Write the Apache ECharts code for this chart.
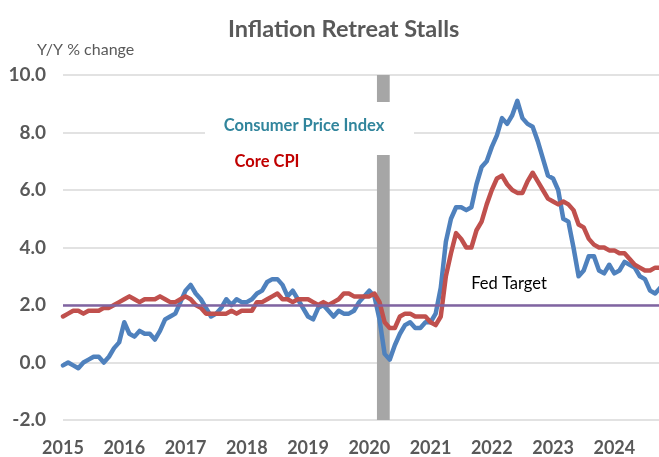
<!DOCTYPE html>
<html>
<head>
<meta charset="utf-8">
<script src="https://cdn.jsdelivr.net/npm/echarts@6/dist/echarts.min.js"></script>
<style>
html,body{margin:0;padding:0;background:#fff;}
#chart{width:659px;height:457px;}
</style>
</head>
<body>
<div id="chart"></div>
<script>
// Monthly data, Jan 2015 .. Oct 2024 (Y/Y % change)
const startYear = 2015;
const cpi = [
  -0.1, 0.0, -0.1, -0.2, 0.0, 0.1, 0.2, 0.2, 0.0, 0.2, 0.5, 0.7,
  1.4, 1.0, 0.9, 1.1, 1.0, 1.0, 0.8, 1.1, 1.5, 1.6, 1.7, 2.1,
  2.5, 2.7, 2.4, 2.2, 1.9, 1.6, 1.7, 1.9, 2.2, 2.0, 2.2, 2.1,
  2.1, 2.2, 2.4, 2.5, 2.8, 2.9, 2.9, 2.7, 2.3, 2.5, 2.2, 1.9,
  1.6, 1.5, 1.9, 2.0, 1.8, 1.6, 1.8, 1.7, 1.7, 1.8, 2.1, 2.3,
  2.5, 2.3, 1.5, 0.3, 0.1, 0.6, 1.0, 1.3, 1.4, 1.2, 1.2, 1.4,
  1.4, 1.7, 2.6, 4.2, 5.0, 5.4, 5.4, 5.3, 5.4, 6.2, 6.8, 7.0,
  7.5, 7.9, 8.5, 8.3, 8.6, 9.1, 8.5, 8.3, 8.2, 7.7, 7.1, 6.5,
  6.4, 6.0, 5.0, 4.9, 4.0, 3.0, 3.2, 3.7, 3.7, 3.2, 3.1, 3.4,
  3.1, 3.2, 3.5, 3.4, 3.3, 3.0, 2.9, 2.5, 2.4, 2.6
];
const coreCpi = [
  1.6, 1.7, 1.8, 1.8, 1.7, 1.8, 1.8, 1.8, 1.9, 1.9, 2.0, 2.1,
  2.2, 2.3, 2.2, 2.1, 2.2, 2.2, 2.2, 2.3, 2.2, 2.1, 2.1, 2.2,
  2.3, 2.2, 2.0, 1.9, 1.7, 1.7, 1.7, 1.7, 1.7, 1.8, 1.7, 1.8,
  1.8, 1.8, 2.1, 2.1, 2.2, 2.3, 2.4, 2.2, 2.2, 2.1, 2.2, 2.2,
  2.2, 2.1, 2.0, 2.1, 2.0, 2.1, 2.2, 2.4, 2.4, 2.3, 2.3, 2.3,
  2.3, 2.4, 2.1, 1.4, 1.2, 1.2, 1.6, 1.7, 1.7, 1.6, 1.6, 1.6,
  1.4, 1.3, 1.6, 3.0, 3.8, 4.5, 4.3, 4.0, 4.0, 4.6, 4.9, 5.5,
  6.0, 6.4, 6.5, 6.2, 6.0, 5.9, 5.9, 6.3, 6.6, 6.3, 6.0, 5.7,
  5.6, 5.5, 5.6, 5.5, 5.3, 4.8, 4.7, 4.3, 4.1, 4.0, 4.0, 3.9,
  3.9, 3.8, 3.8, 3.6, 3.4, 3.3, 3.2, 3.2, 3.3, 3.3
];
const yearLabels = ['2015','2016','2017','2018','2019','2020','2021','2022','2023','2024'];
const yTicks = [-2, 0, 2, 4, 6, 8, 10];
const fedTarget = 2.0;
// recession shading, in months since Jan 2015
const recession = [61.5, 64];

const chart = echarts.init(document.getElementById('chart'), null, {renderer: 'canvas'});
const FONT = 'Lato, "Open Sans", sans-serif';
const toXY = arr => arr.map((v, i) => [i, v]);

const option = {
  backgroundColor: '#ffffff',
  animation: false,
  title: {
    text: 'Inflation Retreat Stalls',
    left: 228, top: 17, padding: 0,
    textStyle: {fontFamily: FONT, fontWeight: 'bold', fontSize: 23.5, color: '#595959'}
  },
  grid: {left: 63, right: 0, top: 75, bottom: 37, containLabel: false},
  xAxis: {
    type: 'value', min: 0, max: 116.75, interval: 12,
    axisLine: {show: false}, axisTick: {show: false}, splitLine: {show: false},
    axisLabel: {
      margin: 19, fontFamily: FONT, fontWeight: 'bold', fontSize: 18, color: '#595959',
      showMaxLabel: false,
      formatter: v => (v % 12 === 0 ? yearLabels[v / 12] || '' : '')
    }
  },
  yAxis: {
    type: 'value', min: yTicks[0], max: yTicks[yTicks.length - 1], interval: 2,
    axisLine: {show: false}, axisTick: {show: false},
    splitLine: {lineStyle: {color: '#D9D9D9', width: 1.5}},
    axisLabel: {
      margin: 17, fontFamily: FONT, fontWeight: 'bold', fontSize: 19, color: '#595959',
      formatter: v => v.toFixed(1)
    }
  },
  series: [
    {
      name: 'Fed Target', type: 'line', data: [], z: 1,
      markLine: {
        silent: true, symbol: 'none', label: {show: false},
        lineStyle: {color: '#8064A2', width: 2.5, type: 'solid'},
        data: [{yAxis: fedTarget}]
      },
      markArea: {
        silent: true,
        itemStyle: {color: '#A6A6A6'},
        data: [[{xAxis: recession[0]}, {xAxis: recession[1]}]]
      }
    },
    {
      name: 'Consumer Price Index', type: 'line', data: toXY(cpi), z: 3,
      showSymbol: false, symbol: 'none',
      lineStyle: {color: '#4F81BD', width: 4.5, join: 'round', cap: 'round'},
      itemStyle: {color: '#4F81BD'}
    },
    {
      name: 'Core CPI', type: 'line', data: toXY(coreCpi), z: 4,
      showSymbol: false, symbol: 'none',
      lineStyle: {color: '#C0504D', width: 4.5, join: 'round', cap: 'round'},
      itemStyle: {color: '#C0504D'}
    }
  ],
  graphic: [
    {type: 'rect', z: 50, shape: {x: 205, y: 102, width: 209, height: 53}, style: {fill: '#ffffff'}},
    {type: 'text', z: 60, left: 37, top: 42,
      style: {text: 'Y/Y % change', font: '16px ' + FONT, fill: '#595959'}},
    {type: 'text', z: 60, x: 304, y: 126,
      style: {text: 'Consumer Price Index', font: 'bold 16.5px ' + FONT, fill: '#31859C', textAlign: 'center', textVerticalAlign: 'middle'}},
    {type: 'text', z: 60, x: 267, y: 162,
      style: {text: 'Core CPI', font: 'bold 16.5px ' + FONT, fill: '#C00000', textAlign: 'center', textVerticalAlign: 'middle'}},
    {type: 'text', z: 60, x: 509, y: 284,
      style: {text: 'Fed Target', font: '16.5px ' + FONT, fill: '#000000', textAlign: 'center', textVerticalAlign: 'middle'}}
  ]
};
chart.setOption(option);
</script>
</body>
</html>
